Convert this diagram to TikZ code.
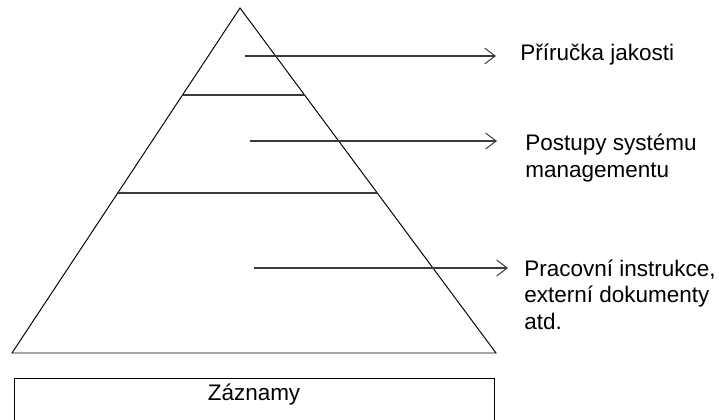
\documentclass[tikz,border=0pt]{standalone}
\usepackage{fontspec}
\setmainfont{Liberation Sans}
\usetikzlibrary{arrows.meta,calc}
\definecolor{ink}{HTML}{000000}
\definecolor{rule}{HTML}{3A3A3A}

\begin{document}
\begin{tikzpicture}[
    x=0.02cm, y=-0.02cm,
    font=\fontsize{12.8}{14.9}\selectfont,
    edge/.style={draw=ink, line width=0.55pt},
    layer/.style={draw=rule, line width=0.8pt},
    pointer/.style={-{Straight Barb[length=6pt,width=9pt,line width=0.55pt]}, draw=rule, line width=0.7pt},
    label/.style={align=left, inner sep=0pt, text=ink}
]
\clip (0,0) rectangle (719,419);

% Pyramid outline.
\coordinate (Apex) at (240,8);
\coordinate (BaseL) at (12,353);
\coordinate (BaseR) at (496,353);
\draw[edge] (Apex) -- (BaseL) -- (BaseR) -- cycle;

% Layer dividers.
\draw[layer] ($(Apex)!0.252!(BaseL)$) -- ($(Apex)!0.252!(BaseR)$);
\draw[layer] ($(Apex)!0.536!(BaseL)$) -- ($(Apex)!0.536!(BaseR)$);

% Labels on the right (base = last line).
\node[label, anchor=west] (Manual) at (520,55) {Příručka jakosti};
\node[label, anchor=base west] (Procedures) at (525,177) {Postupy systému\\managementu};
\node[label, anchor=base west] (Instructions) at (524,329) {Pracovní instrukce,\\externí dokumenty\\atd.};

% Pointers from the layers to the labels.
\coordinate (ManualFrom) at (245,56);
\coordinate (ManualTo) at (496,56);
\coordinate (ProceduresFrom) at (250,141);
\coordinate (ProceduresTo) at (497,141);
\coordinate (InstructionsFrom) at (254,268);
\coordinate (InstructionsTo) at (508,268);
\draw[pointer] (ManualFrom) -- (ManualTo);
\draw[pointer] (ProceduresFrom) -- (ProceduresTo);
\draw[pointer] (InstructionsFrom) -- (InstructionsTo);

% Records box below the pyramid.
\draw[edge] (14,378) rectangle (494,440);
\node[label] (Records) at (254,395) {Záznamy};

\end{tikzpicture}
\end{document}
